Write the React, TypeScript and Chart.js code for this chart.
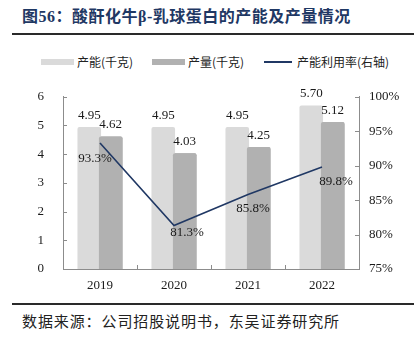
import React, { useEffect, useRef } from 'react';
import { Chart, registerables } from 'chart.js';

Chart.register(...registerables);

const categories = ['2019', '2020', '2021', '2022'];
const capacity = [4.95, 4.95, 4.95, 5.7];
const output = [4.62, 4.03, 4.25, 5.12];
const utilization = [93.3, 81.3, 85.8, 89.8];
const seriesNames = ['产能(千克)', '产量(千克)', '产能利用率(右轴)'];
const leftRange = [0, 6, 1];
const rightRange = [75, 100, 5];

const titleText = '图56：酸酐化牛β-乳球蛋白的产能及产量情况';
const sourceText = '数据来源：公司招股说明书，东吴证券研究所';

const LIGHT = '#DADADA';
const DARK = '#B1B1B1';
const NAVY = '#203864';
const AXIS = '#8C8C8C';
const NUM_FONT = '"Liberation Serif", "Times New Roman", serif';
const CJK_FONT = '"Noto Sans CJK SC", sans-serif';

// label offsets (dx, dy) for the utilisation labels, relative to the point
const pctOffsets = [
  [-5, 16],
  [13, 7],
  [5, 14],
  [14, 15],
];

// draw the darker (output) bars over the lighter (capacity) bars where they overlap
const overlapPlugin = {
  id: 'overlapOrder',
  afterDatasetDraw(chart: any, args: any) {
    if (args.index !== 0) return;
    const meta = chart.getDatasetMeta(1);
    const ctx = chart.ctx;
    ctx.save();
    meta.data.forEach((el: any) => el.draw(ctx, chart.chartArea));
    ctx.restore();
  },
};

const labelsPlugin = {
  id: 'valueLabels',
  afterDatasetsDraw(chart: any) {
    const ctx = chart.ctx;
    ctx.save();
    ctx.font = `13px ${NUM_FONT}`;
    ctx.fillStyle = '#1a1a1a';
    ctx.textAlign = 'center';
    [0, 1].forEach((di) => {
      const meta = chart.getDatasetMeta(di);
      const data = chart.data.datasets[di].data as number[];
      ctx.textBaseline = 'alphabetic';
      meta.data.forEach((el: any, i: number) => {
        ctx.fillText(data[i].toFixed(2), el.x, el.y - 8);
      });
    });
    const lm = chart.getDatasetMeta(2);
    const ld = chart.data.datasets[2].data as number[];
    ctx.textBaseline = 'middle';
    lm.data.forEach((el: any, i: number) => {
      const o = pctOffsets[i] || [0, 14];
      ctx.fillText(ld[i].toFixed(1) + '%', el.x + o[0], el.y + o[1]);
    });
    ctx.restore();
  },
};

const innerTicksPlugin = {
  id: 'innerTicks',
  afterDraw(chart: any) {
    const ctx = chart.ctx;
    const { left, right, bottom } = chart.chartArea;
    const y = chart.scales.y;
    const y1 = chart.scales.y1;
    const x = chart.scales.x;
    ctx.save();
    ctx.strokeStyle = AXIS;
    ctx.lineWidth = 1;
    ctx.beginPath();
    y.ticks.forEach((t: any) => {
      const p = Math.round(y.getPixelForValue(t.value)) + 0.5;
      ctx.moveTo(left, p);
      ctx.lineTo(left + 4, p);
    });
    y1.ticks.forEach((t: any) => {
      const p = Math.round(y1.getPixelForValue(t.value)) + 0.5;
      ctx.moveTo(right - 4, p);
      ctx.lineTo(right, p);
    });
    const n = categories.length;
    for (let i = 1; i < n; i++) {
      const p = Math.round((x.getPixelForValue(i - 1) + x.getPixelForValue(i)) / 2) + 0.5;
      ctx.moveTo(p, bottom);
      ctx.lineTo(p, bottom - 4);
    }
    ctx.stroke();
    ctx.restore();
  },
};

export default function App() {
  const ref = useRef<HTMLCanvasElement | null>(null);

  useEffect(() => {
    document.body.style.margin = '0';
    if (!ref.current) return;
    const chart = new Chart(ref.current, {
      type: 'bar',
      data: {
        labels: categories,
        datasets: [
          {
            type: 'bar',
            label: seriesNames[0],
            data: capacity,
            backgroundColor: LIGHT,
            borderWidth: 0,
            borderRadius: { topLeft: 2, topRight: 2 },
            categoryPercentage: 0.58,
            barPercentage: 1.1,
            yAxisID: 'y',
            order: 1,
          },
          {
            type: 'bar',
            label: seriesNames[1],
            data: output,
            backgroundColor: DARK,
            borderWidth: 0,
            borderRadius: { topLeft: 2, topRight: 2 },
            categoryPercentage: 0.58,
            barPercentage: 1.1,
            yAxisID: 'y',
            order: 2,
          },
          {
            type: 'line',
            label: seriesNames[2],
            data: utilization,
            borderColor: NAVY,
            borderWidth: 1.6,
            pointRadius: 0,
            tension: 0,
            fill: false,
            yAxisID: 'y1',
            order: 0,
          },
        ] as any,
      },
      options: {
        responsive: false,
        animation: false,
        devicePixelRatio: 1,
        layout: { padding: { top: 16, left: 0, right: 0, bottom: 0 } },
        plugins: {
          legend: { display: false },
          tooltip: { enabled: false },
        },
        scales: {
          x: {
            grid: { display: false, drawTicks: false },
            border: { display: true, color: AXIS, width: 1 },
            ticks: { color: '#1a1a1a', font: { family: NUM_FONT, size: 13 }, padding: 9 },
            afterFit: (s: any) => {
              s.height = 31;
            },
          },
          y: {
            position: 'left',
            min: leftRange[0],
            max: leftRange[1],
            grid: { display: false, drawTicks: false },
            border: { display: true, color: AXIS, width: 1 },
            ticks: {
              stepSize: leftRange[2],
              color: '#1a1a1a',
              font: { family: NUM_FONT, size: 13 },
              padding: 19,
            },
            afterFit: (s: any) => {
              s.width = 63;
            },
          },
          y1: {
            position: 'right',
            min: rightRange[0],
            max: rightRange[1],
            grid: { display: false, drawTicks: false },
            border: { display: true, color: AXIS, width: 1 },
            ticks: {
              stepSize: rightRange[2],
              color: '#1a1a1a',
              font: { family: NUM_FONT, size: 13 },
              padding: 10,
              callback: (v: any) => v + '%',
            },
            afterFit: (s: any) => {
              s.width = 55;
            },
          },
        },
      } as any,
      plugins: [overlapPlugin, labelsPlugin, innerTicksPlugin],
    });
    return () => chart.destroy();
  }, []);

  const legendText: React.CSSProperties = {
    position: 'absolute',
    top: 54,
    fontFamily: CJK_FONT,
    fontSize: 12,
    lineHeight: '16px',
    color: '#222',
    whiteSpace: 'nowrap',
  };

  return (
    <div
      style={{
        position: 'relative',
        width: 414,
        height: 337,
        background: '#fff',
        overflow: 'hidden',
      }}
    >
      <div
        style={{
          position: 'absolute',
          left: 22,
          top: 7,
          fontFamily: `"Liberation Serif", ${CJK_FONT}`,
          fontWeight: 'bold',
          fontSize: 16,
          lineHeight: '20px',
          letterSpacing: '0.5px',
          color: '#1F3864',
          whiteSpace: 'nowrap',
        }}
      >
        {titleText}
      </div>
      <div style={{ position: 'absolute', left: 12, top: 33, width: 402, height: 2, background: '#2a2a2a' }} />

      <div style={{ position: 'absolute', left: 41, top: 59, width: 33, height: 6, background: LIGHT }} />
      <div style={{ ...legendText, left: 77 }}>{seriesNames[0]}</div>
      <div style={{ position: 'absolute', left: 152, top: 59, width: 33, height: 6, background: DARK }} />
      <div style={{ ...legendText, left: 188 }}>{seriesNames[1]}</div>
      <div style={{ position: 'absolute', left: 264, top: 61, width: 28, height: 1.6, background: NAVY }} />
      <div style={{ ...legendText, left: 297 }}>{seriesNames[2]}</div>

      <canvas
        ref={ref}
        width={414}
        height={230}
        style={{ position: 'absolute', left: 0, top: 70, width: 414, height: 230 }}
      />

      <div style={{ position: 'absolute', left: 12, top: 303, width: 402, height: 2, background: '#2a2a2a' }} />
      <div
        style={{
          position: 'absolute',
          left: 22,
          top: 311,
          fontFamily: CJK_FONT,
          fontSize: 15,
          lineHeight: '20px',
          letterSpacing: '0.9px',
          color: '#222',
          whiteSpace: 'nowrap',
        }}
      >
        {sourceText}
      </div>
    </div>
  );
}
